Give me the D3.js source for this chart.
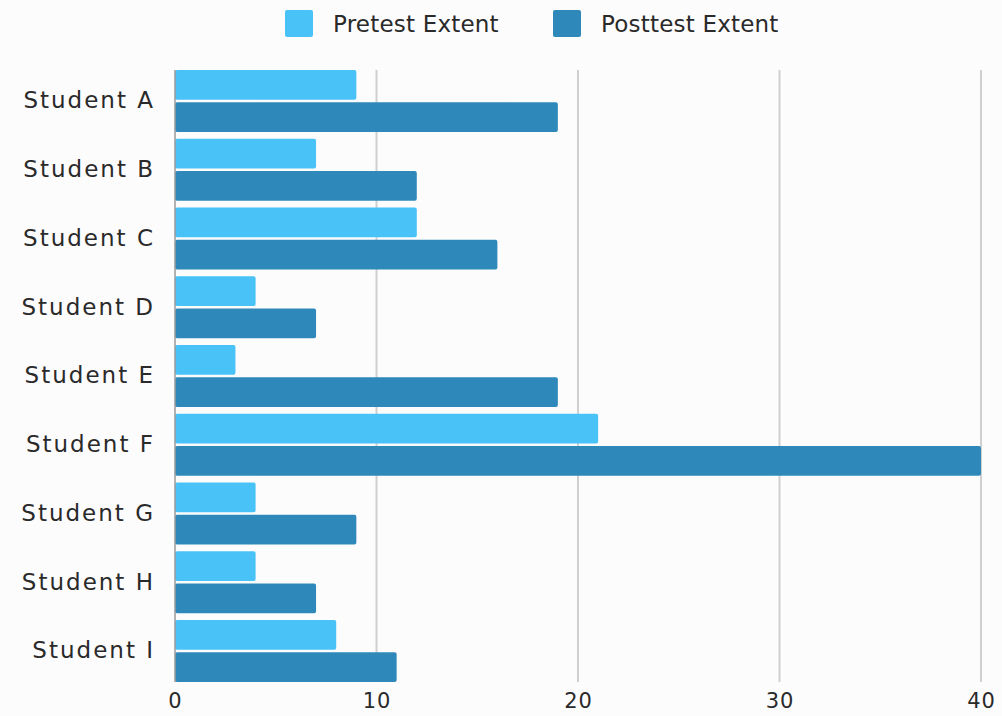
<!DOCTYPE html>
<html>
<head>
<meta charset="utf-8">
<script src="https://cdn.jsdelivr.net/npm/d3@7"></script>
<style>
  body { margin: 0; background: #fdfcfd; }
  svg { display: block; font-family: "DejaVu Sans", sans-serif; }
</style>
</head>
<body>
<svg width="1002" height="716"></svg>
<script>
var students = ["Student A", "Student B", "Student C", "Student D", "Student E", "Student F", "Student G", "Student H", "Student I"];
var pretest = [9, 7, 12, 4, 3, 21, 4, 4, 8];
var posttest = [19, 12, 16, 7, 19, 40, 9, 7, 11];
var seriesNames = ["Pretest Extent", "Posttest Extent"];
var xTicks = [0, 10, 20, 30, 40];

var colors = ["#49c2f7", "#2e89ba"];

var rows = [];
for (var i = 0; i < students.length; i++) {
    rows.push({name: students[i], values: [pretest[i], posttest[i]]});
}

var svg = d3.select("svg");

var x = d3.scaleLinear().domain([0, 40]).range([175, 981]);
var y = d3.scaleBand().domain(students).range([70, 682]).paddingInner(0.1).paddingOuter(0);
var y1 = d3.scaleBand().domain([0, 1]).range([0, y.bandwidth()]).paddingInner(0.08);

// grid lines
svg.append("g").selectAll("line").data(xTicks.slice(1)).enter()
    .append("line")
    .attr("x1", function(d){ return x(d); })
    .attr("x2", function(d){ return x(d); })
    .attr("y1", 70).attr("y2", 682)
    .attr("stroke", "#cfcfcf").attr("stroke-width", 2);

// bars
var groups = svg.append("g").selectAll("g").data(rows).enter()
    .append("g")
    .attr("transform", function(d){ return "translate(0," + y(d.name) + ")"; });

groups.selectAll("rect").data(function(d){ return d.values; }).enter()
    .append("rect")
    .attr("x", x(0))
    .attr("y", function(d, j){ return y1(j); })
    .attr("width", function(d){ return x(d) - x(0); })
    .attr("height", y1.bandwidth())
    .attr("rx", 2)
    .attr("fill", function(d, j){ return colors[j]; });

// baseline
svg.append("line")
    .attr("x1", x(0)).attr("x2", x(0))
    .attr("y1", 70).attr("y2", 682)
    .attr("stroke", "#9a9a9a").attr("stroke-width", 1.5);

// y labels
var yAxis = d3.axisLeft(y).tickSize(0).tickPadding(20);
var gy = svg.append("g").attr("transform", "translate(175,0)").call(yAxis);
gy.select(".domain").remove();
gy.selectAll("text").attr("font-size", 23).attr("letter-spacing", 2)
    .attr("fill", "#2a2a2a").attr("font-family", "DejaVu Sans, sans-serif");

// x labels
var xAxis = d3.axisBottom(x).tickValues(xTicks).tickSize(0).tickPadding(11).tickFormat(d3.format("d"));
var gx = svg.append("g").attr("transform", "translate(0,682)").call(xAxis);
gx.select(".domain").remove();
gx.selectAll("text").attr("font-size", 21).attr("letter-spacing", 1)
    .attr("fill", "#2a2a2a").attr("font-family", "DejaVu Sans, sans-serif");

// legend
var legendX = [285, 553];
var legend = svg.append("g").selectAll("g").data(seriesNames).enter()
    .append("g")
    .attr("transform", function(d, j){ return "translate(" + legendX[j] + ",10)"; });
legend.append("rect")
    .attr("width", 28).attr("height", 27).attr("rx", 2)
    .attr("fill", function(d, j){ return colors[j]; });
legend.append("text")
    .attr("x", 48).attr("y", 14).attr("dy", "0.35em")
    .attr("font-size", 23).attr("letter-spacing", 0.2).attr("fill", "#2a2a2a")
    .text(function(d){ return d; });
</script>
</body>
</html>
